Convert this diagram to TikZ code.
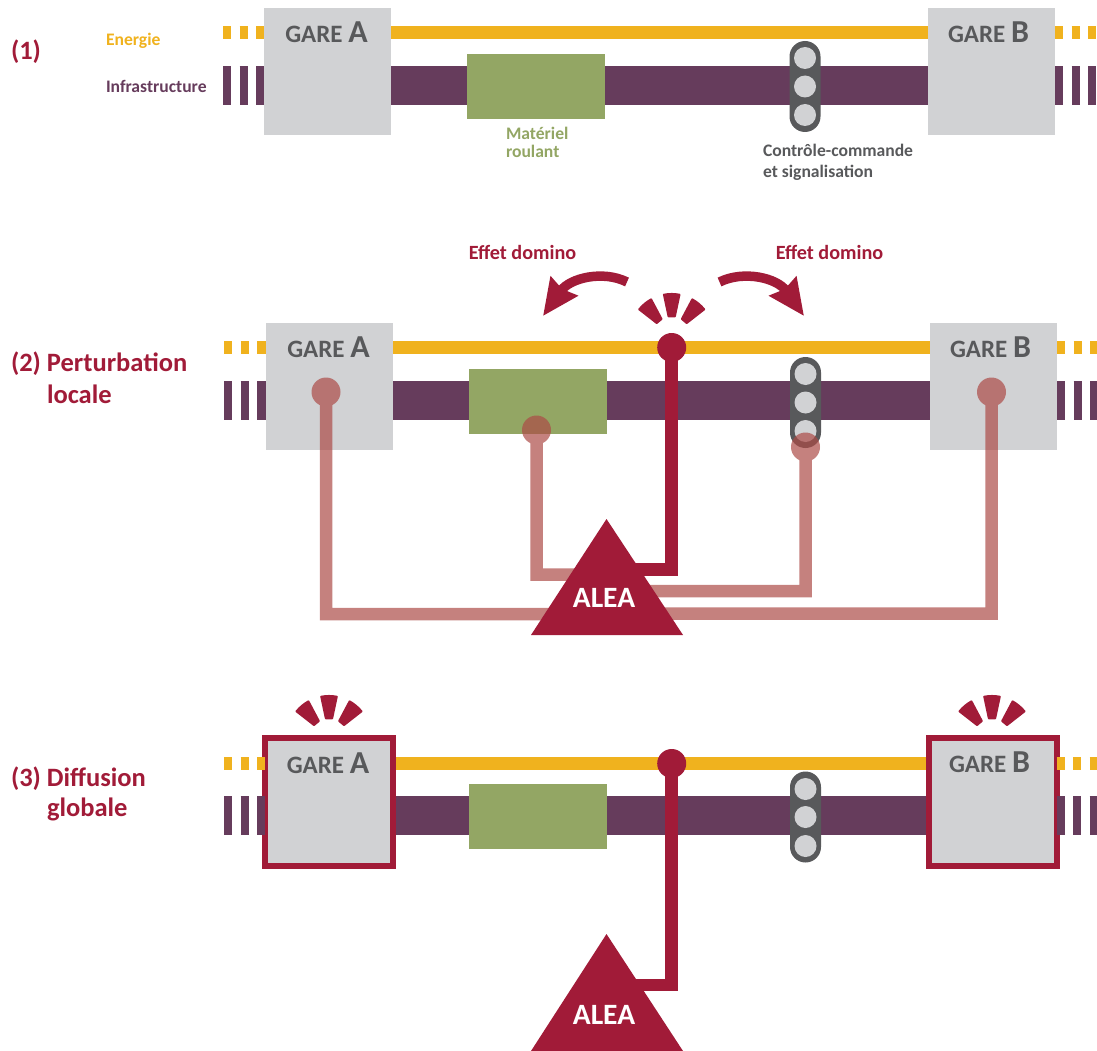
\documentclass[tikz,border=0pt]{standalone}
\usepackage{fontspec}
\setmainfont{Carlito}
\usetikzlibrary{arrows.meta}
\definecolor{energie}{HTML}{F0B21E}
\definecolor{infra}{HTML}{663C5C}
\definecolor{gare}{HTML}{D1D2D4}
\definecolor{materiel}{HTML}{93A664}
\definecolor{feu}{HTML}{58595B}
\definecolor{alea}{HTML}{A11B38}
\definecolor{aleaclair}{HTML}{AC4B47}
\newcommand{\gareA}{GARE {\fontsize{32}{32}\selectfont A}}
\newcommand{\gareB}{GARE {\fontsize{32}{32}\selectfont B}}

\begin{document}
\begin{tikzpicture}[x=1pt, y=1pt,
every node/.style={inner sep=0pt, outer sep=0pt, font=\bfseries},
filenergie/.style={energie, line width=13pt},
filinfra/.style={infra, line width=39pt},
tirets/.style={dash pattern=on 8pt off 8.5pt},
garebox/.style={fill=gare, minimum width=127pt, minimum height=127pt},
garebord/.style={fill=gare, draw=alea, line width=6pt, minimum width=128pt, minimum height=128pt},
garetxt/.style={text=feu, font=\fontsize{25}{25}\selectfont\bfseries},
matbox/.style={fill=materiel, minimum width=138pt, minimum height=65pt},
feubox/.style={fill=feu, rounded corners=15.5pt, minimum width=31pt, minimum height=91pt},
lampe/.style={circle, fill=gare, minimum size=22pt},
impact/.style={circle, fill=alea, minimum size=29pt},
impactclair/.style={circle, fill=aleaclair, minimum size=29pt},
lienfort/.style={alea, line width=12.5pt},
lienclair/.style={aleaclair, line width=12.5pt},
triangle/.style={alea, line join=round},
aleatxt/.style={text=white, font=\fontsize{29.5}{30}\selectfont\bfseries},
titre/.style={anchor=west, text=alea, font=\fontsize{26.5}{27}\selectfont\bfseries},
legende/.style={anchor=west, font=\fontsize{17.6}{18}\selectfont\bfseries, align=left},
dominotxt/.style={text=alea, font=\fontsize{20.2}{22}\selectfont\bfseries},
domino/.style={alea, line width=9.5pt, -{Stealth[length=36pt,width=32pt,inset=3pt]}},
eclats/.pic={
\fill[alea, rounded corners=0.8pt] (78:19) -- (78:43) arc (78:102:43pt) -- (102:19) -- cycle;
\fill[alea, rounded corners=0.8pt] (38:19) -- (38:43) arc (38:62:43pt) -- (62:19) -- cycle;
\fill[alea, rounded corners=0.8pt] (118:19) -- (118:43) arc (118:142:43pt) -- (142:19) -- cycle;
}]
\useasboundingbox (0,0) rectangle (1097,-1051);

% (1)
\node[titre] (titre1) at (11,-52) {(1)};
\node[legende, text=energie] (legE) at (106,-41) {Energie};
\node[legende, text=infra] (legI) at (106,-86) {Infrastructure};
\draw[filenergie, tirets] (223,-33) -- (265,-33);
\draw[filinfra, tirets] (223,-85.5) -- (265,-85.5);
\draw[filenergie, tirets] (1055,-33) -- (1097,-33);
\draw[filinfra, tirets] (1055,-85.5) -- (1097,-85.5);
\draw[filenergie] (264,-33) -- (928,-33);
\draw[filinfra] (264,-85.5) -- (928,-85.5);
\node[garebox] (gA1) at (327.5,-71.5) {};
\node[garebox] (gB1) at (991,-71.5) {};
\node[garetxt] (tA1) at (326.5,-32) {\gareA};
\node[garetxt] (tB1) at (988.5,-32) {\gareB};
\node[matbox] (mat1) at (536,-86.5) {};
\node[legende, text=materiel] (legM) at (506,-142) {Matériel\\roulant};
\node[feubox] (feu1) at (805,-86.5) {};
\node[lampe] (f1a) at (805,-58) {};
\node[lampe] (f1b) at (805,-86.5) {};
\node[lampe] (f1c) at (805,-115) {};
\node[legende, text=feu, font=\fontsize{17.6}{21}\selectfont\bfseries] (legC) at (763,-162.5) {Contrôle-commande\\et signalisation};

% (2)
\node[titre] (titre2) at (11,-363.5) {(2) Perturbation};
\node[titre] (titre2b) at (47,-394) {locale};
\node[dominotxt] (dom1) at (522.5,-252) {Effet domino};
\node[dominotxt] (dom2) at (829.5,-252) {Effet domino};
\coordinate (domG0) at (627,-282);
\coordinate (domG1) at (543,-316);
\coordinate (domD0) at (719.5,-282);
\coordinate (domD1) at (804,-316);
\draw[domino] (domG0) .. controls (603,-270) and (570,-278) .. (domG1);
\draw[domino] (domD0) .. controls (744,-270) and (777,-278) .. (domD1);
\pic at (671.7,-336) {eclats};
\draw[filenergie, tirets] (224,-347.5) -- (266,-347.5);
\draw[filinfra, tirets] (224,-400.5) -- (266,-400.5);
\draw[filenergie, tirets] (1057,-347.5) -- (1097,-347.5);
\draw[filinfra, tirets] (1057,-400.5) -- (1097,-400.5);
\draw[filenergie] (265,-347.5) -- (930,-347.5);
\draw[filinfra] (265,-400.5) -- (930,-400.5);
\node[garebox] (gA2) at (329,-386.5) {};
\node[garebox] (gB2) at (993,-386.5) {};
\node[garetxt] (tA2) at (328.5,-347) {\gareA};
\node[garetxt] (tB2) at (990.5,-347) {\gareB};
\node[matbox] (mat2) at (537.5,-401) {};
\node[feubox] (feu2) at (805.5,-402.5) {};
\node[lampe] (f2a) at (805.5,-374) {};
\node[lampe] (f2b) at (805.5,-402.5) {};
\node[lampe] (f2c) at (805.5,-431) {};
\coordinate (aA) at (606,-614);
\coordinate (aB) at (606,-613.5);
\coordinate (aM) at (606,-574.5);
\coordinate (aF) at (606,-591);
\coordinate (aE) at (606,-569.5);
\begin{scope}[transparency group, opacity=0.7]
\node[impactclair] (iA) at (326,-392) {};
\node[impactclair] (iB) at (991.5,-392) {};
\node[impactclair] (iM) at (536.5,-430) {};
\node[impactclair] (iF) at (805.5,-447) {};
\draw[lienclair] (iA.center) |- (aA);
\draw[lienclair] (iB.center) |- (aB);
\draw[lienclair] (iM.center) |- (aM);
\draw[lienclair] (iF.center) |- (aF);
\end{scope}
\node[impact] (iE) at (671.7,-347.5) {};
\draw[lienfort] (iE.center) |- (aE);
\fill[triangle] (606.5,-519) -- (683,-635) -- (531,-635) -- cycle;
\node[aleatxt] (alea2) at (604,-598) {ALEA};

% (3)
\node[titre] (titre3) at (11,-778.5) {(3) Diffusion};
\node[titre] (titre3b) at (47,-809.5) {globale};
\pic at (329,-738) {eclats};
\pic at (992,-738) {eclats};
\draw[filenergie] (265,-763.5) -- (930,-763.5);
\draw[filinfra] (265,-815.5) -- (930,-815.5);
\node[garebord] (gA3) at (329,-802) {};
\node[garebord] (gB3) at (992.5,-802) {};
\draw[filenergie, tirets] (224,-763.5) -- (266,-763.5);
\draw[filinfra, tirets] (224,-815.5) -- (266,-815.5);
\draw[filenergie, tirets] (1056.5,-763.5) -- (1097,-763.5);
\draw[filinfra, tirets] (1056.5,-815.5) -- (1097,-815.5);
\node[garetxt] (tA3) at (328,-763) {\gareA};
\node[garetxt] (tB3) at (989.5,-762) {\gareB};
\node[matbox] (mat3) at (537.5,-816.5) {};
\node[feubox] (feu3) at (805.5,-817) {};
\node[lampe] (f3a) at (805.5,-789) {};
\node[lampe] (f3b) at (805.5,-817) {};
\node[lampe] (f3c) at (805.5,-846) {};
\node[impact] (iE3) at (671.7,-763.5) {};
\coordinate (aE3) at (606,-985);
\draw[lienfort] (iE3.center) |- (aE3);
\fill[triangle] (606.5,-934) -- (683,-1051) -- (531,-1051) -- cycle;
\node[aleatxt] (alea3) at (604,-1015) {ALEA};
\end{tikzpicture}
\end{document}
